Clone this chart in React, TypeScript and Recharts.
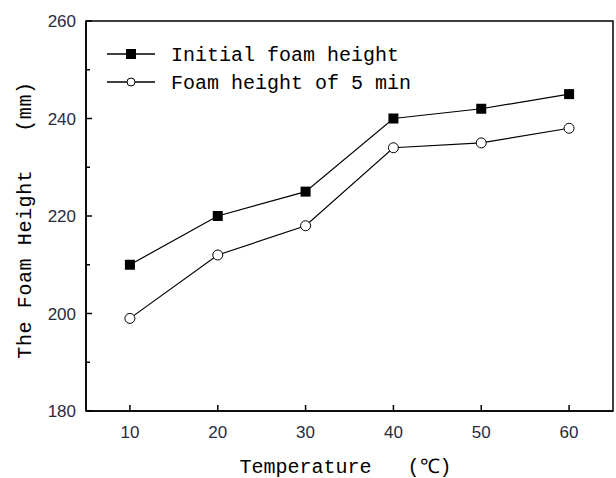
import React from 'react';
import { LineChart, Line, XAxis, YAxis, ReferenceArea } from 'recharts';

const temperatures = [10, 20, 30, 40, 50, 60];
const initialHeight = [210, 220, 225, 240, 242, 245];
const heightAfter5Min = [199, 212, 218, 234, 235, 238];
const xTicks = [10, 20, 30, 40, 50, 60];
const yTicks = [180, 190, 200, 210, 220, 230, 240, 250, 260];

const data = temperatures.map((t, i) => ({
    temp: t,
    initial: initialHeight[i],
    after5: heightAfter5Min[i],
}));

const monoFont = '"Liberation Mono", "DejaVu Sans Mono", monospace';
const tickFont = '"Liberation Sans", Arial, sans-serif';

const SquareDot = (props: any) => {
    const { cx, cy } = props;
    if (cx == null || cy == null) return null;
    return <rect x={cx - 5} y={cy - 5} width={10} height={10} fill="#000" />;
};

const CircleDot = (props: any) => {
    const { cx, cy } = props;
    if (cx == null || cy == null) return null;
    return <circle cx={cx} cy={cy} r={5} fill="#fff" stroke="#000" strokeWidth={1} />;
};

const XTick = (props: any) => {
    const { x, y, payload } = props;
    return (
        <g>
            <line x1={x} y1={y} x2={x} y2={y - 6} stroke="#000" strokeWidth={1.5} />
            <text x={x} y={y + 27} textAnchor="middle" fontSize={17} fontFamily={tickFont} fill="#2a2a3a">
                {payload.value}
            </text>
        </g>
    );
};

const YTick = (props: any) => {
    const { x, y, payload } = props;
    const major = payload.value % 20 === 0;
    return (
        <g>
            <line x1={x} y1={y} x2={x + (major ? 6 : 4)} y2={y} stroke="#000" strokeWidth={1.5} />
            {major && (
                <text x={x - 10} y={y + 6} textAnchor="end" fontSize={17} fontFamily={tickFont} fill="#2a2a3a">
                    {payload.value}
                </text>
            )}
        </g>
    );
};

const XLabel = (props: any) => {
    const { viewBox } = props;
    const cx = viewBox.x + viewBox.width / 2;
    return (
        <text x={cx - 4} y={473} textAnchor="middle" fontSize={20} fontFamily={monoFont} fill="#000" style={{ whiteSpace: 'pre' }}>
            {'Temperature   (\u2103)'}
        </text>
    );
};

const YLabel = (props: any) => {
    const { viewBox } = props;
    const cy = viewBox.y + viewBox.height / 2 + 4;
    return (
        <text
            x={25}
            y={cy}
            transform={`rotate(-90, 25, ${cy})`}
            textAnchor="middle"
            dominantBaseline="central"
            fontSize={20}
            fontFamily={monoFont}
            letterSpacing={0.6}
            fill="#000"
            style={{ whiteSpace: 'pre' }}
        >
            {'The Foam Height   (mm)'}
        </text>
    );
};

// legend drawn as an overlay so it does not take room from the plot
const ChartLegend = () => (
    <svg width={340} height={62} style={{ position: 'absolute', left: 107, top: 40 }}>
        <g>
            <line x1={0} y1={14} x2={48} y2={14} stroke="#000" strokeWidth={1.5} />
            <rect x={19} y={9} width={10} height={10} fill="#000" />
            <text x={64} y={21} fontSize={20} fontFamily={monoFont} fill="#000">Initial foam height</text>
        </g>
        <g>
            <line x1={0} y1={42} x2={48} y2={42} stroke="#000" strokeWidth={1.5} />
            <circle cx={24} cy={42} r={4} fill="#fff" stroke="#000" />
            <text x={64} y={49} fontSize={20} fontFamily={monoFont} fill="#000">Foam height of 5 min</text>
        </g>
    </svg>
);

const App: React.FC = () => {
    return (
        <div style={{ position: 'absolute', left: 0, top: 0, width: 616, height: 478, background: '#fff' }}>
            <LineChart width={616} height={478} data={data} margin={{ top: 21, right: 3, left: 26, bottom: 27 }}>
                <XAxis
                    dataKey="temp"
                    type="number"
                    domain={[5, 65]}
                    ticks={xTicks}
                    interval={0}
                    height={40}
                    tickSize={0}
                    tickMargin={0}
                    tickLine={false}
                    tick={<XTick />}
                    axisLine={{ stroke: '#000', strokeWidth: 1.5 }}
                    allowDataOverflow
                    label={<XLabel />}
                />
                <YAxis
                    type="number"
                    domain={[180, 260]}
                    ticks={yTicks}
                    interval={0}
                    width={60}
                    tickSize={0}
                    tickMargin={0}
                    tickLine={false}
                    tick={<YTick />}
                    axisLine={{ stroke: '#000', strokeWidth: 1.5 }}
                    allowDataOverflow
                    label={<YLabel />}
                />
                <ReferenceArea x1={5} x2={65} y1={180} y2={260} fill="none" stroke="#000" strokeWidth={1.5} ifOverflow="visible" />
                <Line
                    type="linear"
                    dataKey="initial"
                    stroke="#000"
                    strokeWidth={1.2}
                    dot={<SquareDot />}
                    activeDot={false}
                    isAnimationActive={false}
                />
                <Line
                    type="linear"
                    dataKey="after5"
                    stroke="#000"
                    strokeWidth={1.2}
                    dot={<CircleDot />}
                    activeDot={false}
                    isAnimationActive={false}
                />
            </LineChart>
            <ChartLegend />
        </div>
    );
};

export default App;
